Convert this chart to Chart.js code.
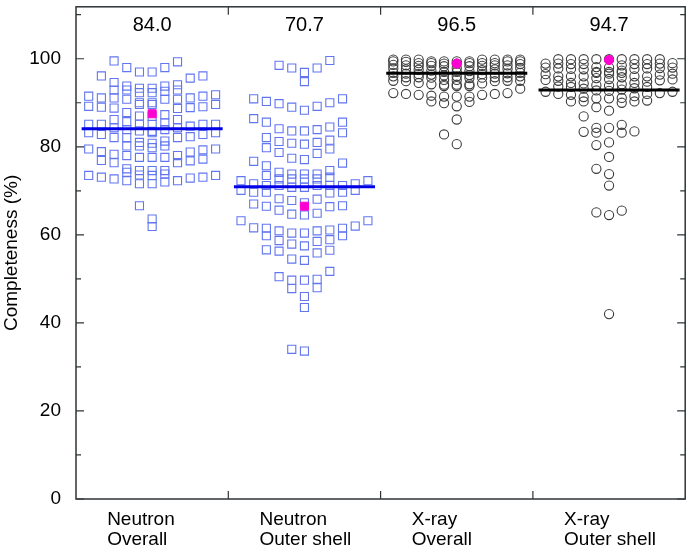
<!DOCTYPE html>
<html><head><meta charset="utf-8">
<script src="https://cdn.jsdelivr.net/npm/chart.js@4.4.1/dist/chart.umd.min.js"></script>
<style>html,body{margin:0;padding:0;background:#fff;}#wrap{width:692px;height:548px;}</style>
</head><body><div id="wrap"><canvas id="c" width="692" height="548"></canvas></div>
<script>
const categories = [['Neutron','Overall'],['Neutron','Outer shell'],['X-ray','Overall'],['X-ray','Outer shell']];
const summaryLabels = ['84.0','70.7','96.5','94.7'];
const summaryLevels = [84.1, 70.9, 96.7, 92.9];
const highlighted = [87.5, 66.5, 98.9, 99.7];
const yTicks = [0,20,40,60,80,100];
const yMinorTicks = [10,30,50,70,90,110];

const neutronOverall = [
 86.9,83.2,78.0,
 99.5,94.6,92.6,90.8,89.0,86.2,85.1,83.5,82.3,80.2,77.6,74.6,73.1,
 98.0,93.8,92.3,90.8,89.1,85.7,84.3,82.8,79.8,77.2,74.2,72.9,
 97.0,93.3,91.5,90.0,88.7,85.1,83.9,82.1,79.3,76.8,73.6,72.3,
 96.1,92.9,91.1,89.6,87.8,85.1,82.8,80.2,78.9,76.4,73.5,72.0,63.6,
 96.1,92.9,91.1,89.6,85.1,83.6,80.8,78.0,76.4,73.5,71.6,66.6,61.9,
 97.0,92.9,91.1,89.2,87.3,84.7,83.2,81.3,78.8,76.9,73.5,71.6,
 98.0,93.3,91.5,89.6,85.4,83.9,82.1,79.5,77.6,73.8,72.3,
 99.3,93.8,91.8,90.0,88.8,86.2,85.1,83.2,82.1,79.5,77.6,74.6,72.7,
 94.1,92.3,90.8,88.9,87.0,84.3,81.0,78.3,74.6,73.1,
 95.6,85.1,80.2,75.0
];
const neutronOuter = [
 97.9,96.9,98.5,94.8,99.6,97.9,
 90.9,90.0,89.2,88.3,89.0,89.8,90.3,90.9,
 86.4,85.6,84.1,83.6,83.2,83.6,83.9,84.5,85.6,
 82.1,81.2,80.8,79.8,79.5,80.6,81.0,81.5,
 78.5,77.1,76.3,75.7,76.7,77.4,78.7,
 74.2,72.7,71.2,73.8,72.3,70.8,73.5,71.6,70.1,72.7,71.2,69.7,72.7,71.2,69.7,72.7,71.2,69.7,73.1,71.6,70.1,73.8,72.3,70.8,73.8,71.2,74.6,69.5,
 68.2,61.5,58.9,67.8,64.9,61.1,58.5,50.5,67.0,64.5,60.9,57.5,49.7,
 66.5,63.2,60.4,56.6,54.5,48.0,34.0,65.6,62.0,59.8,55.9,51.7,47.8,43.5,33.6,
 66.4,63.2,59.8,56.3,54.2,49.7,46.0,66.6,64.7,60.4,56.5,49.9,
 67.3,60.9,57.9,68.1,61.5,58.7,61.6
];
const xrayOverall = [
 98.4,96.2,91.8,
 99.8,99.4,99.0,98.5,97.8,97.2,96.5,95.8,95.0,94.1,91.8,
 99.8,99.4,99.0,98.4,97.7,97.0,96.4,95.7,95.0,93.8,91.4,
 99.8,99.4,99.0,98.5,97.9,97.0,96.3,95.6,94.9,93.8,91.4,
 99.8,99.4,98.9,98.3,97.6,96.8,96.0,95.2,94.1,92.0,90.3,82.8,
 97.5,96.6,95.8,95.0,94.2,92.0,90.2,86.2,80.6,
 99.8,99.4,98.9,98.3,97.4,96.6,95.8,94.4,93.2,91.6,89.9,89.2,
 99.8,99.4,99.0,98.5,97.6,96.8,96.0,95.2,93.8,91.4,
 99.8,99.4,99.0,98.4,97.3,96.5,95.7,94.2,92.2,
 99.3,98.6,97.9,96.7,95.8,94.9,92.2,
 98.8,96.0,94.5
];
const xrayOuter = [
 98.1,96.0,93.2,
 99.9,98.9,98.0,97.0,96.0,95.0,93.9,92.5,
 99.9,98.8,97.8,96.8,95.8,94.5,93.0,91.3,90.3,83.2,
 99.9,99.0,98.0,97.0,96.0,94.8,93.3,91.8,90.3,86.9,83.5,
 99.9,98.9,97.8,96.6,95.4,94.2,92.7,91.1,89.0,84.3,81.0,73.8,65.1,
 98.8,97.7,96.5,95.3,94.0,92.2,90.3,88.2,83.2,80.4,75.0,71.2,64.5,42.0,
 99.9,98.8,97.7,96.6,95.2,93.7,92.0,90.0,84.3,77.7,65.5,
 99.9,98.9,97.9,96.8,95.6,94.4,92.8,91.0,85.0,83.4,
 99.9,98.8,97.6,96.4,95.1,93.6,92.0,90.5,
 99.9,98.5,97.3,96.0,94.5,92.5,91.0,
 99.9,98.0,96.0,93.6,91.5
];
const seriesValues = [neutronOverall, neutronOuter, xrayOverall, xrayOuter];

// beeswarm layout: group values into bands, spread each band across columns (lowest in the middle)
function swarm(values, center, bandWidth, maxCols, step) {
  const sorted = values.slice().sort((a, b) => b - a);
  const pts = [];
  let i = 0;
  while (i < sorted.length) {
    const start = sorted[i];
    const band = [];
    while (i < sorted.length && sorted[i] > start - bandWidth) { band.push(sorted[i]); i++; }
    band.sort((a, b) => a - b);
    band.forEach((v, k) => {
      const s = k % maxCols;
      const off = s === 0 ? 0 : (s % 2 ? -(s + 1) / 2 : s / 2);
      pts.push({ x: center + off * step, y: v });
    });
  }
  return pts;
}

const SQ = '#6276f0', CIRC = '#3c3c3c', PINK = '#ff00d2';
const isNeutron = [true, true, false, false];
const datasets = [];
highlighted.forEach((v, i) => datasets.push({
  type: 'scatter', order: 0, data: [{ x: i + 1, y: v }],
  pointStyle: isNeutron[i] ? 'rect' : 'circle', pointRadius: isNeutron[i] ? 5.7 : 4.6,
  backgroundColor: PINK, borderColor: PINK, borderWidth: 1
}));
summaryLevels.forEach((v, i) => datasets.push({
  type: 'line', order: 1, data: [{ x: i + 1 - 0.463, y: v }, { x: i + 1 + 0.463, y: v }],
  borderColor: isNeutron[i] ? '#0000e6' : '#000000', borderWidth: 3, pointRadius: 0, fill: false
}));
seriesValues.forEach((vals, i) => datasets.push({
  type: 'scatter', order: 2, data: swarm(vals, i + 1, 3, 11, 1 / 12),
  pointStyle: isNeutron[i] ? 'rect' : 'circle', pointRadius: isNeutron[i] ? 5.7 : 4.6,
  backgroundColor: 'rgba(0,0,0,0)', borderColor: isNeutron[i] ? SQ : CIRC, borderWidth: 1.1
}));

const framePlugin = {
  id: 'frame',
  afterDraw(chart) {
    const { ctx, chartArea: a, scales: { x, y } } = chart;
    ctx.save();
    ctx.strokeStyle = '#2f3437';
    ctx.lineWidth = 1.5;
    ctx.strokeRect(a.left, a.top, a.right - a.left, a.bottom - a.top);
    ctx.lineWidth = 1.2;
    ctx.beginPath();
    yTicks.forEach(v => { const p = y.getPixelForValue(v); ctx.moveTo(a.left, p); ctx.lineTo(a.left + 8, p); ctx.moveTo(a.right, p); ctx.lineTo(a.right - 8, p); });
    yMinorTicks.forEach(v => { const p = y.getPixelForValue(v); ctx.moveTo(a.left, p); ctx.lineTo(a.left + 5, p); ctx.moveTo(a.right, p); ctx.lineTo(a.right - 5, p); });
    for (let i = 1; i < categories.length; i++) {
      const p = x.getPixelForValue(i + 0.5);
      ctx.moveTo(p, a.top); ctx.lineTo(p, a.top + 8);
      ctx.moveTo(p, a.bottom); ctx.lineTo(p, a.bottom - 8);
    }
    ctx.stroke();
    ctx.fillStyle = '#000';
    ctx.font = '20px "Liberation Sans", Arial, sans-serif';
    ctx.textAlign = 'center';
    ctx.textBaseline = 'middle';
    summaryLabels.forEach((t, i) => ctx.fillText(t, x.getPixelForValue(i + 1), a.top + 19));
    ctx.restore();
  }
};

new Chart(document.getElementById('c').getContext('2d'), {
  data: { datasets },
  options: {
    responsive: false, animation: false, events: [],
    layout: { padding: { top: 1, right: 4, left: 0, bottom: 0 } },
    plugins: { legend: { display: false }, tooltip: { enabled: false } },
    scales: {
      x: {
        type: 'linear', min: 0.5, max: 4.5,
        afterBuildTicks: s => { s.ticks = categories.map((c, i) => ({ value: i + 1 })); },
        ticks: {
          callback: (v, i) => categories[i], align: 'start', labelOffset: -45,
          font: { family: '"Liberation Sans", Arial, sans-serif', size: 19, lineHeight: 1.05 },
          color: '#000', padding: 11, maxRotation: 0, autoSkip: false
        },
        grid: { display: false, drawTicks: false }, border: { display: false },
        afterFit: s => { s.height = 49; s.paddingLeft = 0; s.paddingRight = 0; }
      },
      y: {
        type: 'linear', min: 0, max: 111.8,
        afterBuildTicks: s => { s.ticks = yTicks.map(v => ({ value: v })); },
        ticks: { font: { family: '"Liberation Sans", Arial, sans-serif', size: 19 }, color: '#000', padding: 15 },
        grid: { display: false, drawTicks: false }, border: { display: false },
        title: { display: true, text: 'Completeness (%)', color: '#000', font: { family: '"Liberation Sans", Arial, sans-serif', size: 19 }, padding: { top: 0, bottom: 0 } },
        afterFit: s => { s.width = 76; s.paddingTop = 0; s.paddingBottom = 0; }
      }
    }
  },
  plugins: [framePlugin]
});
</script></body></html>
